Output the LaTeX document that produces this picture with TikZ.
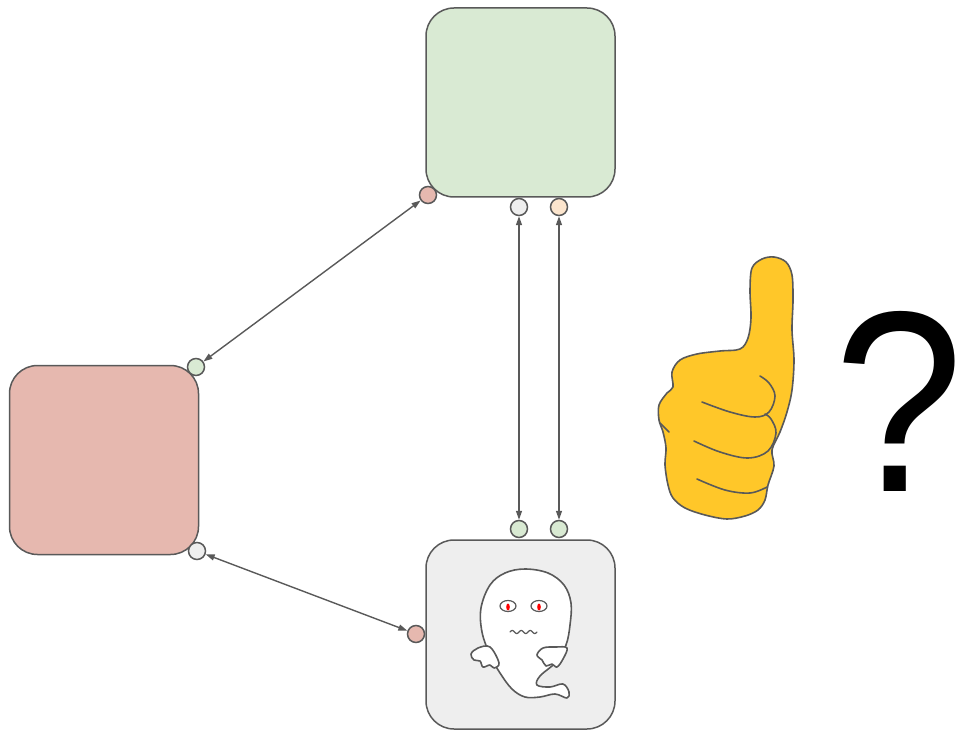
\documentclass[tikz,border=0pt]{standalone}
\usepackage{fontspec}
\setmainfont{Liberation Sans}
\usetikzlibrary{arrows.meta}
\definecolor{edge}{HTML}{595959}
\definecolor{gfill}{HTML}{D9EAD3}
\definecolor{rfill}{HTML}{E6B8AF}
\definecolor{nfill}{HTML}{EEEEEE}
\definecolor{pfill}{HTML}{FCE5CD}
\definecolor{thumbc}{HTML}{FFC729}
\begin{document}
\begin{tikzpicture}[x=1pt,y=-1pt,
  box/.style={draw=edge, line width=1.5pt, rounded corners=28pt, minimum width=189pt, minimum height=189pt, inner sep=0pt},
  port/.style={circle, draw=edge, line width=1.5pt, minimum size=17pt, inner sep=0pt},
  link/.style={draw=edge, line width=1.4pt, {Triangle[length=9pt,width=6pt]}-{Triangle[length=9pt,width=6pt]}},
  outline/.style={draw=edge, line width=1.6pt, line join=round, line cap=round}]
\useasboundingbox (0,0) rectangle (961,730);

% three blocks
\node[box, fill=gfill] (top) at (520.5,102.5) {};
\node[box, fill=rfill] (left) at (104,460) {};
\node[box, fill=nfill] (bot) at (520.5,634.5) {};

% ports
\node[port, fill=rfill] (tA) at (428,195) {};
\node[port, fill=nfill] (tB) at (519,207) {};
\node[port, fill=pfill] (tC) at (559,207) {};
\node[port, fill=gfill] (lA) at (196,367) {};
\node[port, fill=nfill] (lB) at (197,551) {};
\node[port, fill=rfill] (bA) at (416,634) {};
\node[port, fill=gfill] (bB) at (519,529) {};
\node[port, fill=gfill] (bC) at (559,529) {};

% connectors
\draw[link] (tA) -- (lA);
\draw[link] (tB) -- (bB);
\draw[link] (tC) -- (bC);
\draw[link] (lB) -- (bA);

% ghost
\draw[outline, fill=white] plot[smooth cycle, tension=0.6] coordinates {(525,569) (548,573) (564,585) (571,603) (570,625) (566,645) (556,662) (540,676) (537,685) (550,687) (563,684) (569,692) (567,698) (555,694) (540,697) (525,697) (512,689) (500,673) (490,655) (482,632) (481,608) (490,585) (505,573)};
\draw[outline, fill=white] plot[smooth cycle, tension=0.6] coordinates {(490,647) (478,648) (471,654) (474,660) (480,661) (483,667) (490,665) (494,668) (499,663)};
\draw[outline, fill=white] plot[smooth cycle, tension=0.6] coordinates {(556,647) (543,648) (537,655) (542,660) (546,666) (552,664) (557,667) (563,659) (567,648)};
\draw[outline, line width=1.2pt, fill=white] (508,606) ellipse [x radius=8, y radius=5.5];
\draw[outline, line width=1.2pt, fill=white] (539,606) ellipse [x radius=8, y radius=5.5];
\fill[red] (508,607) ellipse [x radius=1.8, y radius=3.5];
\fill[red] (539,607) ellipse [x radius=1.8, y radius=3.5];
\draw[outline, line width=1.2pt] plot[domain=0:27, samples=50, smooth] ({510+\x}, {632-1.5*sin(\x*40)});

% thumbs up
\draw[outline, fill=thumbc] plot[smooth cycle, tension=0.55] coordinates {(740,349) (748,338) (751,318) (750,290) (752,268) (762,259) (774,257) (786,262) (792,275) (793,300) (792,330) (794,360) (792,390) (787,412) (780,432) (772,450) (774,466) (768,485) (765,500) (758,510) (745,516) (727,519) (705,515) (685,508) (673,498) (668,485) (665,465) (666,448) (663,432) (659,420) (659,405) (667,393) (673,387) (672,372) (680,360) (697,354) (720,351)};
\draw[outline] plot[smooth, tension=0.6] coordinates {(702,402) (730,412) (755,417) (769,412) (775,396) (769,383) (760,376)};
\draw[outline] plot[smooth, tension=0.6] coordinates {(694,441) (720,452) (748,458) (768,451) (776,433) (771,419) (765,414)};
\draw[outline] plot[smooth, tension=0.6] coordinates {(697,479) (725,490) (750,493) (767,487)};
\draw[outline] (660,423) -- (669,432);

% question mark (box narrowed so the side bearings stay inside the page)
\node[inner sep=0pt, xscale=0.9] (q) at (899,401) {\makebox[100pt]{\fontsize{258}{258}\selectfont ?}};
\end{tikzpicture}
\end{document}
